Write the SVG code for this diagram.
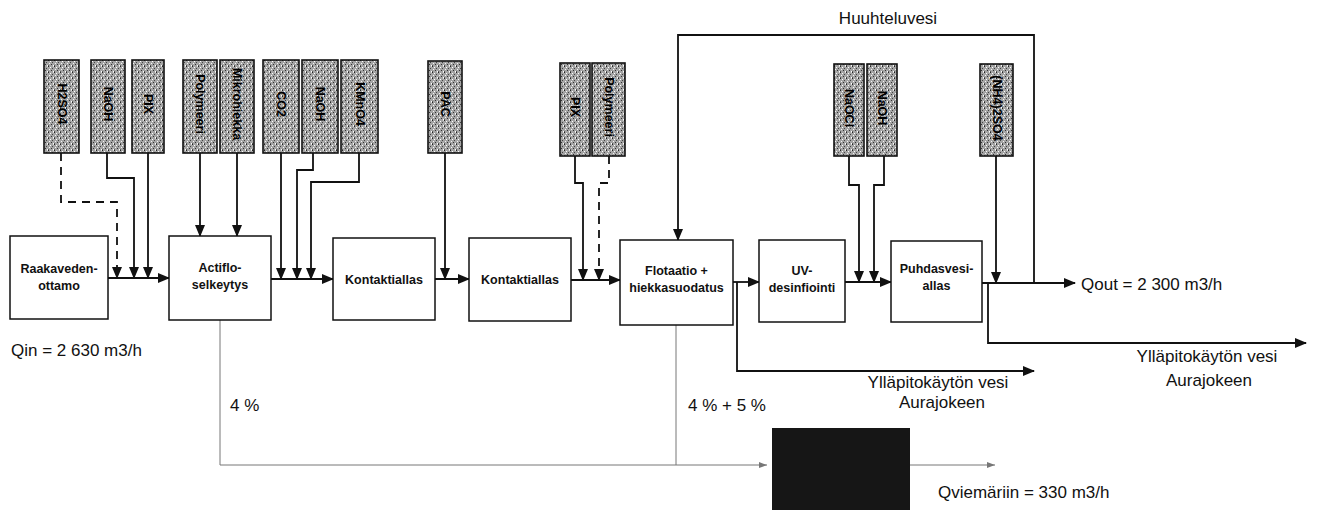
<svg xmlns="http://www.w3.org/2000/svg" width="1317" height="510" viewBox="0 0 1317 510">
<style>
.bg{fill:#fff}
.box{fill:#fff;stroke:#111;stroke-width:1.5}
.chem{fill:url(#noise);stroke:#111;stroke-width:1.6}
.chemt{font-family:"Liberation Sans",Arial,sans-serif;font-size:12.5px;font-weight:bold;fill:#000;text-anchor:middle;dominant-baseline:central}
.pt{font-family:"Liberation Sans",Arial,sans-serif;font-size:12.5px;font-weight:bold;fill:#111;text-anchor:middle}
.lbl{font-family:"Liberation Sans",Arial,sans-serif;font-size:17px;fill:#111}
.ar{fill:none;stroke:#111;stroke-width:1.8;marker-end:url(#ah)}
.da{fill:none;stroke:#111;stroke-width:1.8;stroke-dasharray:8 6;marker-end:url(#ah)}
.gl{fill:none;stroke:#777;stroke-width:1}
.ga{fill:none;stroke:#777;stroke-width:1;marker-end:url(#gh)}
</style>
<defs>
<pattern id="noise" width="6" height="6" patternUnits="userSpaceOnUse">
<rect width="6" height="6" fill="#a4a4a4"/>
<rect x="0" y="0" width="1" height="1" fill="#222"/>
<rect x="2" y="1" width="1" height="1" fill="#fff"/>
<rect x="4" y="2" width="1" height="1" fill="#444"/>
<rect x="1" y="3" width="1" height="1" fill="#f4f4f4"/>
<rect x="3" y="4" width="1" height="1" fill="#333"/>
<rect x="5" y="5" width="1" height="1" fill="#fff"/>
<rect x="5" y="0" width="1" height="1" fill="#ddd"/>
<rect x="0" y="5" width="1" height="1" fill="#555"/>
</pattern>
<marker id="ah" markerWidth="12" markerHeight="10" refX="11" refY="5" orient="auto" markerUnits="userSpaceOnUse">
<path d="M0,0 L12,5 L0,10 z" fill="#111"/>
</marker>
<marker id="gh" markerWidth="8" markerHeight="6" refX="8" refY="3" orient="auto" markerUnits="userSpaceOnUse">
<path d="M0,0 L8,3 L0,6 z" fill="#777"/>
</marker>
</defs>
<rect class="bg" width="1317" height="510"/>

<g id="connectors">
<path class="ar" d="M108,278 H169"/>
<path class="ar" d="M271,279 H333"/>
<path class="ar" d="M435,279 H469"/>
<path class="ar" d="M571,280 H620"/>
<path class="ar" d="M733,282 H759"/>
<path class="ar" d="M845,282 H891"/>
<path class="ar" d="M982,283 H1075"/>
<path class="da" d="M61,153 V202 H117 V278"/>
<path class="ar" d="M107,153 V178 H134 V278"/>
<path class="ar" d="M148,153 V278"/>
<path class="ar" d="M200,153 V236"/>
<path class="ar" d="M237,153 V236"/>
<path class="ar" d="M281,153 V279"/>
<path class="ar" d="M313,153 V170 H297 V279"/>
<path class="ar" d="M359,153 V182 H311 V279"/>
<path class="ar" d="M445,153 V279"/>
<path class="ar" d="M575,156 V183 H583 V280"/>
<path class="da" d="M609,156 V183 H599 V280"/>
<path class="ar" d="M849,156 V185 H859 V282"/>
<path class="ar" d="M884,156 V185 H874 V282"/>
<path class="ar" d="M996,156 V283"/>
<path class="ar" d="M1034,283 V35 H678 V240"/>
<path class="ar" d="M737,282 V371 H1034"/>
<path class="ar" d="M988,283 V343 H1306"/>
<path class="ga" d="M220,320 V465 H767"/>
<path class="gl" d="M676,325 V465"/>
<path class="ga" d="M910,465 H995"/>
</g>

<g id="n-h2so4"><rect class="chem" x="44" y="60" width="35" height="93"/><text class="chemt" transform="translate(61.5,104) rotate(90)">H2SO4</text></g>
<g id="n-naoh1"><rect class="chem" x="91" y="60" width="34" height="93"/><text class="chemt" transform="translate(108,104) rotate(90)">NaOH</text></g>
<g id="n-pix1"><rect class="chem" x="132" y="60" width="32" height="93"/><text class="chemt" transform="translate(148,104) rotate(90)">PIX</text></g>
<g id="n-polymeeri1"><rect class="chem" x="183" y="60" width="34" height="93"/><text class="chemt" transform="translate(200,104) rotate(90)">Polymeeri</text></g>
<g id="n-mikrohiekka"><rect class="chem" x="220" y="60" width="34" height="93"/><text class="chemt" transform="translate(237,104) rotate(90)">Mikrohiekka</text></g>
<g id="n-co2"><rect class="chem" x="263" y="60" width="36" height="93"/><text class="chemt" transform="translate(281,104) rotate(90)">CO2</text></g>
<g id="n-naoh2"><rect class="chem" x="302" y="60" width="36" height="93"/><text class="chemt" transform="translate(320,104) rotate(90)">NaOH</text></g>
<g id="n-kmno4"><rect class="chem" x="341" y="60" width="37" height="93"/><text class="chemt" transform="translate(359.5,104) rotate(90)">KMnO4</text></g>
<g id="n-pac"><rect class="chem" x="428" y="61" width="34" height="92"/><text class="chemt" transform="translate(445,104) rotate(90)">PAC</text></g>
<g id="n-pix2"><rect class="chem" x="560" y="63" width="30" height="93"/><text class="chemt" transform="translate(575,107) rotate(90)">PIX</text></g>
<g id="n-polymeeri2"><rect class="chem" x="592" y="63" width="33" height="93"/><text class="chemt" transform="translate(608.5,107) rotate(90)">Polymeeri</text></g>
<g id="n-naocl"><rect class="chem" x="834" y="64" width="30" height="92"/><text class="chemt" transform="translate(849,108) rotate(90)">NaOCl</text></g>
<g id="n-naoh3"><rect class="chem" x="867" y="64" width="30" height="92"/><text class="chemt" transform="translate(882,108) rotate(90)">NaOH</text></g>
<g id="n-nh4"><rect class="chem" x="980" y="64" width="33" height="92"/><text class="chemt" transform="translate(996.5,108) rotate(90)">(NH4)2SO4</text></g>

<g id="n-raakavesi"><rect class="box" x="10" y="236" width="98" height="83"/><text class="pt" x="59" y="273">Raakaveden-</text><text class="pt" x="59" y="290">ottamo</text></g>
<g id="n-actiflo"><rect class="box" x="169" y="236" width="102" height="84"/><text class="pt" x="220" y="272">Actiflo-</text><text class="pt" x="220" y="289">selkeytys</text></g>
<g id="n-kontakti1"><rect class="box" x="333" y="238" width="102" height="82"/><text class="pt" x="384" y="284">Kontaktiallas</text></g>
<g id="n-kontakti2"><rect class="box" x="469" y="238" width="102" height="83"/><text class="pt" x="520" y="284">Kontaktiallas</text></g>
<g id="n-flotaatio"><rect class="box" x="620" y="240" width="113" height="85"/><text class="pt" x="676.5" y="275">Flotaatio +</text><text class="pt" x="676.5" y="292">hiekkasuodatus</text></g>
<g id="n-uv"><rect class="box" x="759" y="240" width="86" height="82"/><text class="pt" x="802" y="275">UV-</text><text class="pt" x="802" y="292">desinfiointi</text></g>
<g id="n-puhdas"><rect class="box" x="891" y="241" width="91" height="81"/><text class="pt" x="936.5" y="273">Puhdasvesi-</text><text class="pt" x="936.5" y="290">allas</text></g>
<g id="n-viemari"><rect x="772" y="428" width="138" height="82" fill="#161616"/></g>

<g id="labels">
<text class="lbl" x="888" y="24" text-anchor="middle">Huuhteluvesi</text>
<text class="lbl" x="11" y="356">Qin = 2 630 m3/h</text>
<text class="lbl" x="1081" y="290">Qout = 2 300 m3/h</text>
<text class="lbl" x="1207" y="362" text-anchor="middle">Ylläpitokäytön vesi</text>
<text class="lbl" x="1209" y="386" text-anchor="middle">Aurajokeen</text>
<text class="lbl" x="938" y="388" text-anchor="middle">Ylläpitokäytön vesi</text>
<text class="lbl" x="942" y="408" text-anchor="middle">Aurajokeen</text>
<text class="lbl" x="230" y="411">4 %</text>
<text class="lbl" x="688" y="411">4 % + 5 %</text>
<text class="lbl" x="938" y="498">Qviemäriin = 330 m3/h</text>
</g>
</svg>
